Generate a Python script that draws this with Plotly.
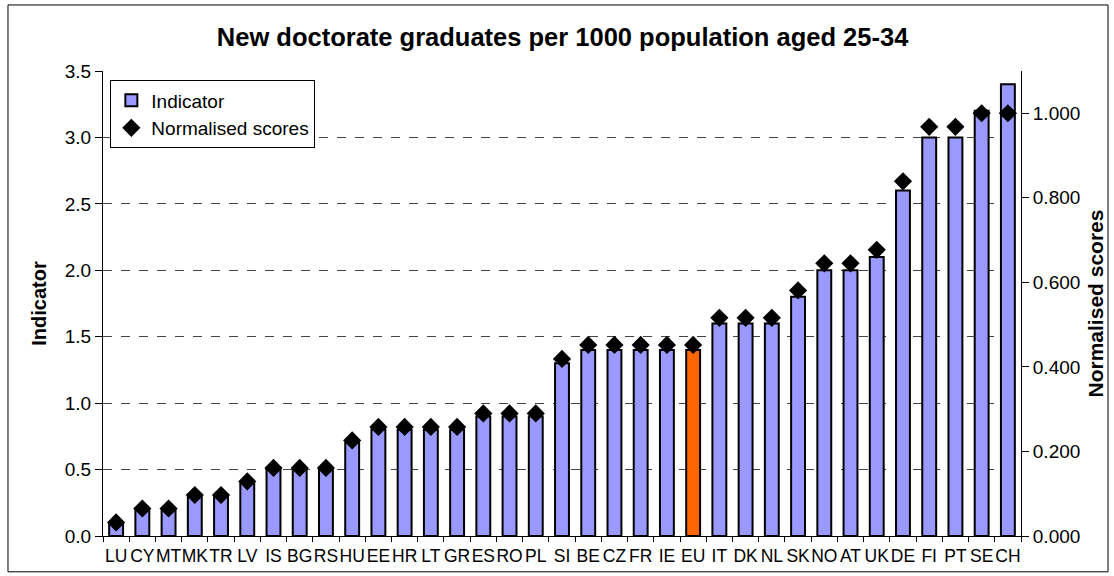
import plotly.graph_objects as go

# categories (countries) and values
paises = ["LU", "CY", "MT", "MK", "TR", "LV", "IS", "BG", "RS", "HU", "EE", "HR",
          "LT", "GR", "ES", "RO", "PL", "SI", "BE", "CZ", "FR", "IE", "EU", "IT",
          "DK", "NL", "SK", "NO", "AT", "UK", "DE", "FI", "PT", "SE", "CH"]
indicador = [0.1, 0.2, 0.2, 0.3, 0.3, 0.4, 0.5, 0.5, 0.5, 0.7, 0.8, 0.8,
             0.8, 0.8, 0.9, 0.9, 0.9, 1.3, 1.4, 1.4, 1.4, 1.4, 1.4, 1.6,
             1.6, 1.6, 1.8, 2.0, 2.0, 2.1, 2.6, 3.0, 3.0, 3.2, 3.4]
normalizado = [0.032, 0.065, 0.065, 0.097, 0.097, 0.129, 0.161, 0.161, 0.161,
               0.226, 0.258, 0.258, 0.258, 0.258, 0.290, 0.290, 0.290, 0.419,
               0.452, 0.452, 0.452, 0.452, 0.452, 0.516, 0.516, 0.516, 0.581,
               0.645, 0.645, 0.677, 0.839, 0.968, 0.968, 1.000, 1.000]

AZUL = "#9999FF"
NARANJA = "#FF6600"
FUENTE = "Liberation Sans, Arial, sans-serif"

colores = [NARANJA if p == "EU" else AZUL for p in paises]

fig = go.Figure()
fig.add_trace(go.Bar(
    x=paises, y=indicador, name="Indicator",
    marker=dict(color=colores, line=dict(color="black", width=2)),
))
fig.add_trace(go.Scatter(
    x=paises, y=normalizado, name="Normalised scores", yaxis="y2",
    mode="markers",
    marker=dict(symbol="diamond", size=14, color="black"),
))

# marco exterior del grafico
fig.add_shape(type="rect", xref="paper", yref="paper",
              x0=-0.1035, x1=1.0948, y0=-0.077, y1=1.142,
              line=dict(color="black", width=1), fillcolor="rgba(0,0,0,0)")

fig.update_layout(
    width=1114, height=576,
    margin=dict(l=103, r=93, t=71, b=40),
    plot_bgcolor="white", paper_bgcolor="white",
    font=dict(family=FUENTE, size=19, color="black"),
    title=dict(text="<b>New doctorate graduates per 1000 population aged 25-34</b>",
               x=0.505, xanchor="center", y=0.935, yanchor="middle",
               font=dict(size=25.5)),
    bargap=0.47,
    showlegend=True,
    legend=dict(x=0.008, y=0.98, xanchor="left", yanchor="top",
                bgcolor="white", bordercolor="black", borderwidth=1,
                font=dict(size=19), tracegroupgap=0, itemwidth=30),
    xaxis=dict(
        type="category", range=[-0.5, len(paises) - 0.5],
        tickson="boundaries", ticks="outside", ticklen=5,
        tickcolor="black", showline=True, linecolor="black", linewidth=1,
        showgrid=False, tickangle=0, tickfont=dict(size=17.5),
        ticklabelstandoff=4, automargin=False,
    ),
    yaxis=dict(
        range=[0, 3.5], dtick=0.5, tickformat=".1f",
        title=dict(text="<b>Indicator</b>", font=dict(size=20), standoff=12),
        ticks="outside", ticklen=7, tickcolor="black",
        showline=True, linecolor="black", linewidth=1,
        showgrid=True, gridcolor="#444444", griddash="dash", gridwidth=1,
        zeroline=False, tickfont=dict(size=19), automargin=False,
    ),
    yaxis2=dict(
        overlaying="y", side="right", range=[0, 1.1], dtick=0.2,
        tickformat=".3f",
        title=dict(text="<b>Normalised scores</b>", font=dict(size=21), standoff=8),
        ticks="outside", ticklen=7, tickcolor="black",
        showline=True, linecolor="black", linewidth=1,
        showgrid=False, zeroline=False, tickfont=dict(size=19), automargin=False,
    ),
)

fig.write_html("out.html", config={"displayModeBar": False},
               post_script="document.body.style.margin='0';")
